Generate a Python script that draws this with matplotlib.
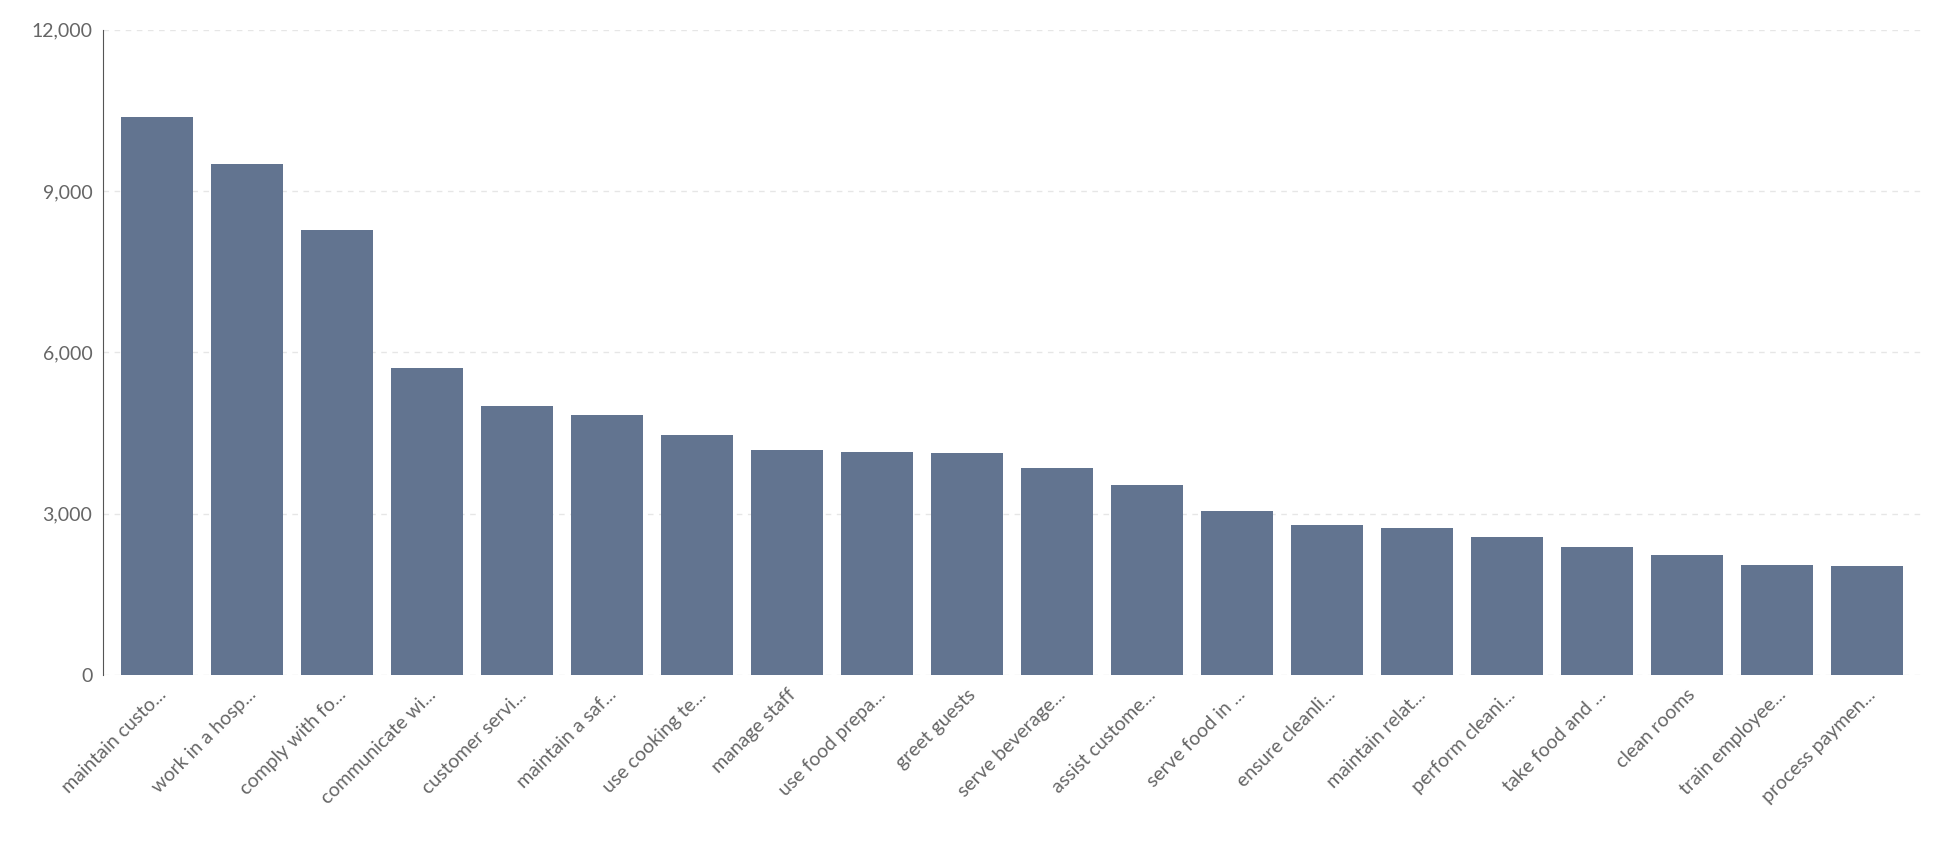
import matplotlib
matplotlib.use("Agg")
import matplotlib.pyplot as plt

categories = ["maintain custo...", "work in a hosp...", "comply with fo...", "communicate wi...",
              "customer servi...", "maintain a saf...", "use cooking te...", "manage staff",
              "use food prepa...", "greet guests", "serve beverage...", "assist custome...",
              "serve food in ...", "ensure cleanli...", "maintain relat...", "perform cleani...",
              "take food and ...", "clean rooms", "train employee...", "process paymen..."]
values = [10370, 9510, 8280, 5700, 5000, 4840, 4470, 4190, 4140, 4120,
          3840, 3530, 3050, 2790, 2740, 2560, 2370, 2230, 2050, 2020]

plt.rcParams['font.family'] = ['Lato', 'DejaVu Sans']
fig = plt.figure(figsize=(19.52, 8.5), dpi=100)
ax = fig.add_axes([0.053, 0.206, 0.931, 0.759])
x = range(len(categories))
ax.bar(x, values, width=0.8, color="#627490", zorder=3)
ax.set_xlim(-0.6, len(categories) - 0.4)
ax.set_ylim(0, 12000)
ax.set_yticks([0, 3000, 6000, 9000, 12000])
ax.set_yticklabels(["0", "3,000", "6,000", "9,000", "12,000"])
ax.set_xticks(list(x))
ax.set_xticklabels(categories, rotation=45, ha="right", rotation_mode="anchor")
ax.tick_params(axis="both", colors="#666666", labelsize=14, length=0, pad=8)
ax.yaxis.grid(True, color="#e6e6e6", linestyle=(0, (4, 4)), linewidth=1, zorder=0)
for s in ["top", "right", "bottom"]:
    ax.spines[s].set_visible(False)
ax.spines["left"].set_color("#555555")
fig.savefig("out.png", dpi=100)
